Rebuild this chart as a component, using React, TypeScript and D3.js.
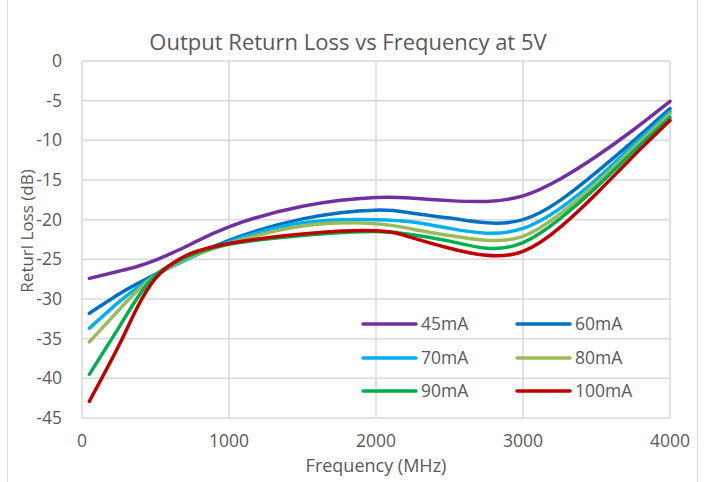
import React from 'react';
import * as d3 from 'd3';

const freqs = [50, 250, 375, 500, 625, 750, 1000, 1500, 2000, 2250, 2500, 2750, 3000, 3250, 3500, 3750, 4000];
const loss45 = [-27.4, -26.5, -25.9, -25.1, -24.1, -23.0, -20.9, -18.3, -17.2, -17.3, -17.6, -17.7, -17.0, -14.9, -12.0, -8.7, -5.1];
const loss60 = [-31.8, -29.4, -28.1, -26.9, -25.7, -24.6, -22.6, -19.9, -18.8, -19.2, -19.8, -20.4, -20.0, -17.6, -14.0, -10.1, -6.0];
const loss70 = [-33.7, -30.4, -28.6, -27.0, -25.8, -24.7, -22.8, -20.4, -20.0, -20.3, -21.1, -21.7, -21.1, -18.6, -14.9, -10.6, -6.4];
const loss80 = [-35.4, -31.4, -29.0, -27.0, -25.7, -24.6, -23.0, -20.8, -20.5, -21.2, -22.0, -22.6, -22.1, -19.3, -15.4, -11.0, -6.7];
const loss90 = [-39.5, -33.6, -29.9, -27.0, -25.5, -24.4, -23.1, -22.0, -21.5, -21.9, -22.7, -23.6, -22.9, -19.9, -15.9, -11.4, -7.1];
const loss100 = [-42.9, -35.9, -31.1, -27.4, -25.4, -24.2, -23.0, -21.8, -21.4, -22.3, -23.6, -24.5, -24.0, -21.0, -16.7, -12.0, -7.5];

const seriesNames = ['45mA', '60mA', '70mA', '80mA', '90mA', '100mA'];
const seriesValues = [loss45, loss60, loss70, loss80, loss90, loss100];
const seriesColors = ['#7030A0', '#0070C0', '#00B0F0', '#9BBB59', '#00B050', '#C00000'];

const xTicks = [0, 1000, 2000, 3000, 4000];
const yTicks = [0, -5, -10, -15, -20, -25, -30, -35, -40, -45];

const W = 707;
const H = 482;
const font = "'Open Sans', 'Noto Sans', sans-serif";
const textColor = '#595959';
const gridColor = '#d9d9d9';

export default function App() {
  const x = d3.scaleLinear().domain([0, 4000]).range([82, 670]);
  const y = d3.scaleLinear().domain([0, -45]).range([61, 418]);

  const line = d3.line<[number, number]>()
    .x(d => x(d[0]))
    .y(d => y(d[1]))
    .curve(d3.curveNatural);

  // legend is a 2-column grid inside the plot
  const legCol = [363, 517];
  const legRow = [324, 358, 391];

  return (
    <svg width={W} height={H} style={{position: 'absolute', left: 0, top: 0, background: '#fff'}}>
      <rect x={7.5} y={-2} width={690} height={H + 4} fill="#fff" stroke={gridColor} strokeWidth={1} />

      {yTicks.map((t, i) => (
        <line key={'gy' + i} x1={x(0)} x2={x(4000)} y1={y(t)} y2={y(t)} stroke={gridColor} strokeWidth={1.5} />
      ))}
      {xTicks.map((t, i) => (
        <line key={'gx' + i} x1={x(t)} x2={x(t)} y1={y(0)} y2={y(-45)} stroke={gridColor} strokeWidth={1.5} />
      ))}

      {yTicks.map((t, i) => (
        <text key={'ty' + i} x={62} y={y(t)} dy="0.35em" textAnchor="end" fontFamily={font} fontSize={17.5} fill={textColor}>
          {t}
        </text>
      ))}
      {xTicks.map((t, i) => (
        <text key={'tx' + i} x={x(t)} y={441} dy="0.35em" textAnchor="middle" fontFamily={font} fontSize={17.5} fill={textColor}>
          {t}
        </text>
      ))}

      <text x={376} y={466} dy="0.35em" textAnchor="middle" fontFamily={font} fontSize={18} fill={textColor}>
        Frequency (MHz)
      </text>
      <text transform="translate(27,231) rotate(-90)" dy="0.35em" textAnchor="middle" fontFamily={font} fontSize={17} fill={textColor}>
        Returl Loss (dB)
      </text>
      <text x={348} y={42} dy="0.35em" textAnchor="middle" fontFamily={font} fontSize={22} fill={textColor}>
        Output Return Loss vs Frequency at 5V
      </text>

      {seriesValues.map((vals, i) => (
        <path key={'s' + i}
          d={line(freqs.map((f, j) => [f, vals[j]] as [number, number])) || ''}
          fill="none" stroke={seriesColors[i]} strokeWidth={3.5} strokeLinecap="round" strokeLinejoin="round" />
      ))}

      {seriesNames.map((name, i) => {
        const cx = legCol[i % 2];
        const cy = legRow[Math.floor(i / 2)];
        return (
          <g key={'l' + i}>
            <line x1={cx} x2={cx + 53} y1={cy} y2={cy} stroke={seriesColors[i]} strokeWidth={3.5} strokeLinecap="round" />
            <text x={cx + 58} y={cy} dy="0.35em" fontFamily={font} fontSize={17.5} fill={textColor}>{name}</text>
          </g>
        );
      })}
    </svg>
  );
}
